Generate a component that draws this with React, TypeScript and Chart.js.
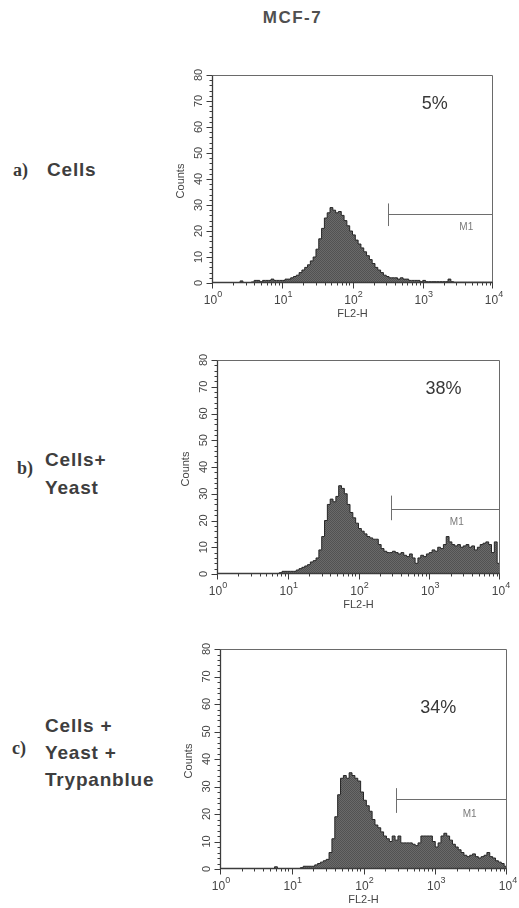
import React, { useEffect, useRef } from 'react';
import { Chart, registerables } from 'chart.js';

Chart.register(...registerables);

// ---------- data ----------
const BIN_WIDTH_DECADES = 0.04; // 100 bins over 10^0 .. 10^4

const cellsCounts = [
  0, 0, 0, 0, 0, 0, 0, 0, 0, 0,
  0.8, 0, 0, 0, 0.4, 1, 1, 0.5, 1, 1,
  1, 1.5, 1, 1, 1, 1, 1.5, 1.5, 2, 2.5,
  3, 4, 5, 6, 7, 8.5, 10, 13, 17, 21,
  25, 27, 29, 28, 27, 27.5, 26, 24, 22, 20,
  18.5, 16.5, 15, 13.5, 12, 10.5, 9, 7.5, 6, 5,
  4, 3, 2.5, 2, 2, 2, 1.5, 2, 1.5, 1.5,
  1, 1, 1, 1, 0.5, 1, 0.5, 0.5, 0.5, 0.5,
  0.5, 0.5, 0.5, 0.5, 1.5, 0.5, 0.3, 0.3, 0.3, 0.3,
  0.3, 0.3, 0.3, 0.3, 0.3, 0.3, 0.3, 0.3, 0.3, 0.3,
];

const yeastCounts = [
  0, 0, 0, 0, 0, 0, 0, 0, 0, 0,
  0, 0, 0, 0, 0, 0, 0, 0, 0, 0,
  0, 0, 0.5, 1, 1, 1, 1, 1, 1.5, 2,
  2.5, 3, 3.5, 4.5, 5, 6, 9, 14, 20, 26,
  28, 27, 29, 33, 32, 30, 26, 23, 21, 19,
  17, 16, 15, 14, 13.5, 13, 13, 11, 9.5, 8.5,
  8, 8, 8.5, 8, 7.5, 8, 7, 6.5, 7.5, 6,
  4, 6, 7, 6.5, 7.5, 8, 9, 8.5, 10, 9.5,
  11, 14, 12, 11, 10.5, 11, 10, 10.5, 11, 10,
  10.5, 9, 10, 11, 11.5, 12, 11, 8, 12, 4,
];

const trypanCounts = [
  0, 0, 0, 0, 0, 0, 0, 0, 0, 0,
  0, 0, 0, 0, 0, 0, 0, 0, 0, 0.8,
  0, 0, 0, 0, 0, 0, 0, 0, 0.5, 1,
  1, 1, 1, 1.5, 2, 2.5, 3, 3.5, 6, 11,
  19, 27, 33, 34, 33, 35, 34, 33, 32, 28,
  25, 23, 21, 18, 16, 15, 13.5, 12, 11, 10,
  12, 10.5, 12, 9.5, 9.5, 9.5, 9.5, 9, 8.5, 9.5,
  12, 12, 12, 12, 10, 8, 9.5, 12, 13, 12,
  10.5, 9, 8, 7, 6, 5, 4.5, 5, 5.5, 4.5,
  4, 4.5, 5, 6, 4.5, 4, 3, 2.5, 2, 1,
];

const yTickLabels = [0, 10, 20, 30, 40, 50, 60, 70, 80];
const xDecadeExponents = [0, 1, 2, 3, 4];
const percentLabels = ['5%', '38%', '34%'];
const m1GateStarts = [324, 288, 282];
const titleText = 'MCF-7';
const xAxisTitle = 'FL2-H';
const yAxisTitle = 'Counts';
const gateName = 'M1';

// ---------- layout ----------
const panels = [
  {
    counts: cellsCounts, pct: percentLabels[0], gate: m1GateStarts[0],
    area: { l: 212, r: 493, t: 75, b: 283 },
    gateTop: 30.6, gateBottom: 21.9, gateLevel: 26.5,
    gateLabelX: 4170, gateLabelY: 21.4,
    pctX: 1480, pctY: 69,
  },
  {
    counts: yeastCounts, pct: percentLabels[1], gate: m1GateStarts[1],
    area: { l: 217, r: 500, t: 360, b: 574 },
    gateTop: 29.3, gateBottom: 20.1, gateLevel: 24.3,
    gateLabelX: 2450, gateLabelY: 19.5,
    pctX: 1585, pctY: 69,
  },
  {
    counts: trypanCounts, pct: percentLabels[2], gate: m1GateStarts[2],
    area: { l: 220, r: 507, t: 649, b: 869 },
    gateTop: 29.4, gateBottom: 20.4, gateLevel: 25.4,
    gateLabelX: 3020, gateLabelY: 20,
    pctX: 1100, pctY: 58.5,
  },
];

const PAD = { l: 62, t: 20, r: 12, b: 38 };
const SANS = '"Liberation Sans", Arial, Helvetica, sans-serif';
const SERIF = '"Liberation Serif", "Times New Roman", serif';

function toPoints(counts: number[]) {
  const pts = counts.map((c, i) => ({ x: Math.pow(10, i * BIN_WIDTH_DECADES), y: c }));
  pts.push({ x: Math.pow(10, counts.length * BIN_WIDTH_DECADES), y: counts[counts.length - 1] });
  return pts;
}

const facsAxes = {
  id: 'facsAxes',
  afterDraw(chart: any, _args: any, opts: any) {
    const { ctx, chartArea: a, scales } = chart;
    const x = scales.x;
    const y = scales.y;
    const L = Math.round(a.left) + 0.5;
    const R = Math.round(a.right) - 0.5;
    const T = Math.round(a.top) + 0.5;
    const B = Math.round(a.bottom) - 0.5;
    ctx.save();

    // frame
    ctx.strokeStyle = '#6a6a6a';
    ctx.lineWidth = 1;
    ctx.beginPath();
    ctx.moveTo(L, T); ctx.lineTo(R, T); ctx.lineTo(R, B);
    ctx.stroke();
    ctx.strokeStyle = '#3c3c3c';
    ctx.lineWidth = 1.3;
    ctx.beginPath();
    ctx.moveTo(L, T); ctx.lineTo(L, B); ctx.lineTo(R, B);
    ctx.stroke();

    // y ticks
    ctx.lineWidth = 1;
    ctx.strokeStyle = '#3c3c3c';
    ctx.beginPath();
    for (let v = 0; v <= 80; v += 2) {
      const py = Math.round(y.getPixelForValue(v)) + 0.5;
      const len = v % 10 === 0 ? 6 : 3;
      ctx.moveTo(L - len, py); ctx.lineTo(L, py);
    }
    // x ticks
    for (let d = 0; d < 4; d++) {
      for (let m = 1; m <= 9; m++) {
        const px = Math.round(x.getPixelForValue(m * Math.pow(10, d))) + 0.5;
        const len = m === 1 ? 6 : 3;
        ctx.moveTo(px, B); ctx.lineTo(px, B + len);
      }
    }
    const pEnd = Math.round(x.getPixelForValue(10000)) - 0.5;
    ctx.moveTo(pEnd, B); ctx.lineTo(pEnd, B + 6);
    ctx.stroke();

    // y labels (rotated)
    ctx.fillStyle = '#454545';
    ctx.font = `11px ${SANS}`;
    ctx.textAlign = 'center';
    ctx.textBaseline = 'middle';
    for (const v of yTickLabels) {
      const py = y.getPixelForValue(v);
      ctx.save();
      ctx.translate(a.left - 13, py);
      ctx.rotate(-Math.PI / 2);
      ctx.fillText(String(v), 0, 0);
      ctx.restore();
    }
    // y title
    ctx.save();
    ctx.translate(a.left - 31, (a.top + a.bottom) / 2 + 2);
    ctx.rotate(-Math.PI / 2);
    ctx.font = `11px ${SANS}`;
    ctx.fillText(yAxisTitle, 0, 0);
    ctx.restore();

    // x labels 10^n
    ctx.textBaseline = 'alphabetic';
    ctx.textAlign = 'left';
    for (const e of xDecadeExponents) {
      const px = x.getPixelForValue(Math.pow(10, e));
      ctx.font = `12px ${SANS}`;
      const w1 = ctx.measureText('10').width;
      ctx.font = `9px ${SANS}`;
      const w2 = ctx.measureText(String(e)).width;
      const start = px - (w1 + w2) / 2 + 1;
      ctx.font = `12px ${SANS}`;
      ctx.fillText('10', start, a.bottom + 21);
      ctx.font = `9px ${SANS}`;
      ctx.fillText(String(e), start + w1, a.bottom + 14);
    }
    // x title
    ctx.textAlign = 'center';
    ctx.font = `11px ${SANS}`;
    ctx.fillText(xAxisTitle, (a.left + a.right) / 2, a.bottom + 34);

    // M1 gate
    const gx = Math.round(x.getPixelForValue(opts.gate)) + 0.5;
    const gy = Math.round(y.getPixelForValue(opts.gateLevel)) + 0.5;
    ctx.strokeStyle = '#6e6e6e';
    ctx.lineWidth = 1;
    ctx.beginPath();
    ctx.moveTo(gx, y.getPixelForValue(opts.gateTop));
    ctx.lineTo(gx, y.getPixelForValue(opts.gateBottom));
    ctx.moveTo(gx, gy);
    ctx.lineTo(R, gy);
    ctx.stroke();
    ctx.fillStyle = '#7a7a7a';
    ctx.font = `10px ${SANS}`;
    ctx.textBaseline = 'middle';
    ctx.fillText(gateName, x.getPixelForValue(opts.gateLabelX), y.getPixelForValue(opts.gateLabelY));

    // percentage
    ctx.fillStyle = '#383838';
    ctx.font = `18px ${SANS}`;
    ctx.fillText(opts.pct, x.getPixelForValue(opts.pctX), y.getPixelForValue(opts.pctY));

    ctx.restore();
  },
};

function makeFillPattern(): CanvasPattern | string {
  const c = document.createElement('canvas');
  c.width = 2; c.height = 2;
  const g = c.getContext('2d');
  if (!g) return '#5c5c5c';
  g.fillStyle = '#525252'; g.fillRect(0, 0, 2, 2);
  g.fillStyle = '#6a6a6a'; g.fillRect(0, 0, 1, 1); g.fillRect(1, 1, 1, 1);
  const p = g.createPattern(c, 'repeat');
  return p || '#5c5c5c';
}

function Histogram({ panel }: { panel: typeof panels[number] }) {
  const ref = useRef<HTMLCanvasElement | null>(null);
  const a = panel.area;
  const left = a.l - PAD.l;
  const top = a.t - PAD.t;
  const width = a.r - a.l + PAD.l + PAD.r;
  const height = a.b - a.t + PAD.t + PAD.b;

  useEffect(() => {
    if (!ref.current) return;
    const chart = new Chart(ref.current, {
      type: 'line',
      data: {
        datasets: [{
          data: toPoints(panel.counts),
          stepped: 'before',
          fill: 'origin',
          backgroundColor: makeFillPattern() as any,
          borderColor: '#262626',
          borderWidth: 1,
          pointRadius: 0,
        }],
      },
      options: {
        animation: false,
        responsive: false,
        maintainAspectRatio: false,
        layout: { padding: { left: PAD.l, top: PAD.t, right: PAD.r, bottom: PAD.b } },
        plugins: {
          legend: { display: false },
          tooltip: { enabled: false },
          facsAxes: {
            gate: panel.gate, gateTop: panel.gateTop, gateBottom: panel.gateBottom,
            gateLevel: panel.gateLevel, gateLabelX: panel.gateLabelX, gateLabelY: panel.gateLabelY,
            pct: panel.pct, pctX: panel.pctX, pctY: panel.pctY,
          },
        } as any,
        scales: {
          x: { type: 'logarithmic', min: 1, max: 10000, display: false },
          y: { type: 'linear', min: 0, max: 80, display: false },
        },
      },
      plugins: [facsAxes],
    });
    return () => chart.destroy();
  }, []);

  return (
    <canvas
      ref={ref}
      width={width}
      height={height}
      style={{ position: 'absolute', left, top, width, height }}
    />
  );
}

const labelStyle = (x: number, cy: number, size = 19): React.CSSProperties => ({
  position: 'absolute', left: x, top: cy - 12, lineHeight: '24px', height: 24,
  fontFamily: SANS, fontWeight: 'bold', fontSize: size, color: '#3e3e3e',
  letterSpacing: '0.8px', whiteSpace: 'nowrap',
});
const letterStyle = (x: number, cy: number): React.CSSProperties => ({
  position: 'absolute', left: x, top: cy - 12, lineHeight: '24px', height: 24,
  fontFamily: SERIF, fontWeight: 'bold', fontSize: 18, color: '#3a3a3a', whiteSpace: 'nowrap',
});

export default function App() {
  useEffect(() => {
    document.body.style.margin = '0';
    document.body.style.background = '#ffffff';
  }, []);
  return (
    <div style={{ position: 'relative', width: 519, height: 908, overflow: 'hidden', background: '#fff' }}>
      <div style={{
        position: 'absolute', left: 0, width: 585, top: 6, lineHeight: '24px', textAlign: 'center',
        fontFamily: SANS, fontWeight: 'bold', fontSize: 17, letterSpacing: '1.5px', color: '#505050',
      }}>{titleText}</div>

      <div style={letterStyle(13, 170)}>a)</div>
      <div style={labelStyle(47, 170)}>Cells</div>

      <div style={letterStyle(17, 468)}>b)</div>
      <div style={labelStyle(45, 460)}>Cells+</div>
      <div style={labelStyle(45, 488)}>Yeast</div>

      <div style={labelStyle(45, 726)}>Cells +</div>
      <div style={letterStyle(12, 748)}>c)</div>
      <div style={labelStyle(45, 753)}>Yeast +</div>
      <div style={labelStyle(45, 780)}>Trypanblue</div>

      {panels.map((p, i) => <Histogram key={i} panel={p} />)}
    </div>
  );
}
